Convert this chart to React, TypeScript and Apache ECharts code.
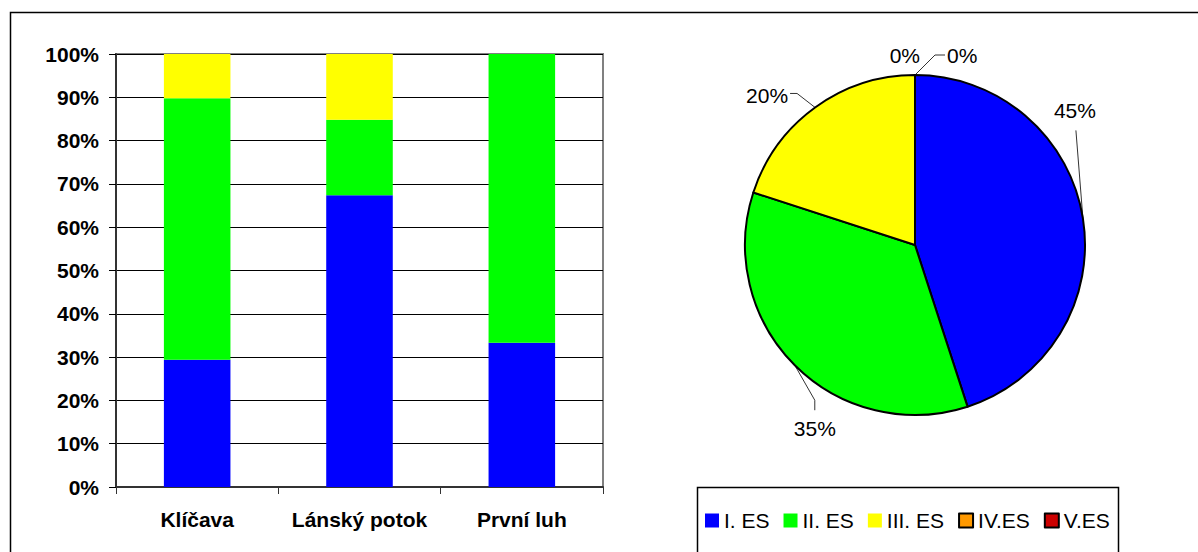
import React, { useEffect, useRef } from "react";
import * as echarts from "echarts";

const categories = ["Klíčava", "Lánský potok", "První luh"];
const seriesNames = ["I. ES", "II. ES", "III. ES", "IV.ES", "V.ES"];
const colors = ["#0000FF", "#00FF00", "#FFFF00", "#FF9900", "#CC0000"];
const barI = [29.4, 67.4, 33.3];
const barII = [60.4, 17.4, 66.7];
const barIII = [10.2, 15.2, 0];
const pieValues = [45, 35, 20, 0, 0];
const yTicks = [0, 10, 20, 30, 40, 50, 60, 70, 80, 90, 100];

const FONT = "'Liberation Sans', Arial, sans-serif";

// label offsets relative to the slice's anchor point on the arc (Excel-like placement)
const labelPlacement: any[] = [
  { line: [[-7, -88]], label: [-8, -108], align: "center" },
  { line: [[20, 35], [20, 45]], label: [20, 63], align: "center" },
  { line: [[-18, -14], [-25, -14]], label: [-27, -12], align: "right" },
  { line: [[20, -20], [30, -20]], label: [32, -20], align: "left" },
  { line: [], label: [5, -20], align: "right" },
];

export default function App() {
  const ref = useRef<HTMLDivElement>(null);
  useEffect(() => {
    if (!ref.current) return;
    const chart = echarts.init(ref.current, undefined, { renderer: "svg" });
    const barData = [barI, barII, barIII];
    const option: any = {
      animation: false,
      backgroundColor: "#fff",
      textStyle: { fontFamily: FONT },
      legend: {
        left: 705,
        top: 510,
        itemWidth: 14,
        itemHeight: 14,
        itemGap: 14,
        padding: 0,
        icon: "rect",
        textStyle: { fontSize: 21, color: "#000", fontFamily: FONT },
        data: seriesNames,
        selectedMode: false,
      },
      grid: {
        left: 116,
        top: 54,
        right: 595,
        bottom: 65,
        show: true,
        borderColor: "#808080",
        borderWidth: 2,
        backgroundColor: "transparent",
      },
      xAxis: {
        type: "category",
        data: categories,
        axisLine: { lineStyle: { color: "#333", width: 2 } },
        axisTick: { show: true, length: 7, lineStyle: { color: "#333", width: 1 } },
        axisLabel: { interval: 0, fontSize: 21, fontWeight: "bold", color: "#000", margin: 22, fontFamily: FONT },
      },
      yAxis: {
        type: "value",
        min: yTicks[0],
        max: yTicks[yTicks.length - 1],
        interval: 10,
        axisLine: { show: true, lineStyle: { color: "#333", width: 2 } },
        axisTick: { show: true, length: 7, lineStyle: { color: "#000", width: 1 } },
        splitLine: { show: true, lineStyle: { color: "#000", width: 1 } },
        axisLabel: { fontSize: 21, fontWeight: "bold", color: "#000", margin: 17, formatter: "{value}%", fontFamily: FONT },
      },
      series: [
        ...barData.map((d, i) => ({
          name: seriesNames[i],
          type: "bar",
          stack: "total",
          barWidth: "41%",
          data: d,
          itemStyle: { color: colors[i] },
        })),
        {
          name: "pie",
          type: "pie",
          center: [915, 245],
          radius: 170,
          startAngle: 90,
          clockwise: true,
          avoidLabelOverlap: false,
          data: seriesNames.map((n, i) => ({
            name: n,
            value: pieValues[i],
            itemStyle: { color: colors[i] },
          })),
          itemStyle: { borderColor: "#000", borderWidth: 2 },
          label: {
            show: true,
            position: "outside",
            formatter: "{c}%",
            fontSize: 21,
            color: "#000",
            fontFamily: FONT,
          },
          labelLine: { show: true, length: 18, length2: 10, lineStyle: { color: "#333", width: 1 } },
          labelLayout: (params: any) => {
            const p = labelPlacement[params.dataIndex];
            const pts = params.labelLinePoints;
            if (!p || !pts || !pts[0]) return {};
            const a = pts[0];
            const line = [[a[0], a[1]]].concat(p.line.map((o: number[]) => [a[0] + o[0], a[1] + o[1]]));
            if (line.length < 2) line.push([a[0], a[1]]);
            if (line.length < 3) line.push(line[line.length - 1]);
            return {
              x: a[0] + p.label[0],
              y: a[1] + p.label[1],
              align: p.align,
              verticalAlign: "middle",
              labelLinePoints: line,
            };
          },
        },
      ],
      graphic: [
        {
          type: "rect",
          shape: { x: 10.5, y: 12.5, width: 1400, height: 800 },
          style: { fill: "none", stroke: "#000", lineWidth: 1.5 },
          silent: true,
        },
        {
          type: "rect",
          shape: { x: 697.5, y: 487.5, width: 421, height: 120 },
          style: { fill: "none", stroke: "#000", lineWidth: 1.5 },
          silent: true,
        },
      ],
    };
    chart.setOption(option);
    return () => chart.dispose();
  }, []);
  return (
    <div
      ref={ref}
      style={{ position: "fixed", left: 0, top: 0, width: 1198, height: 552 }}
    />
  );
}
